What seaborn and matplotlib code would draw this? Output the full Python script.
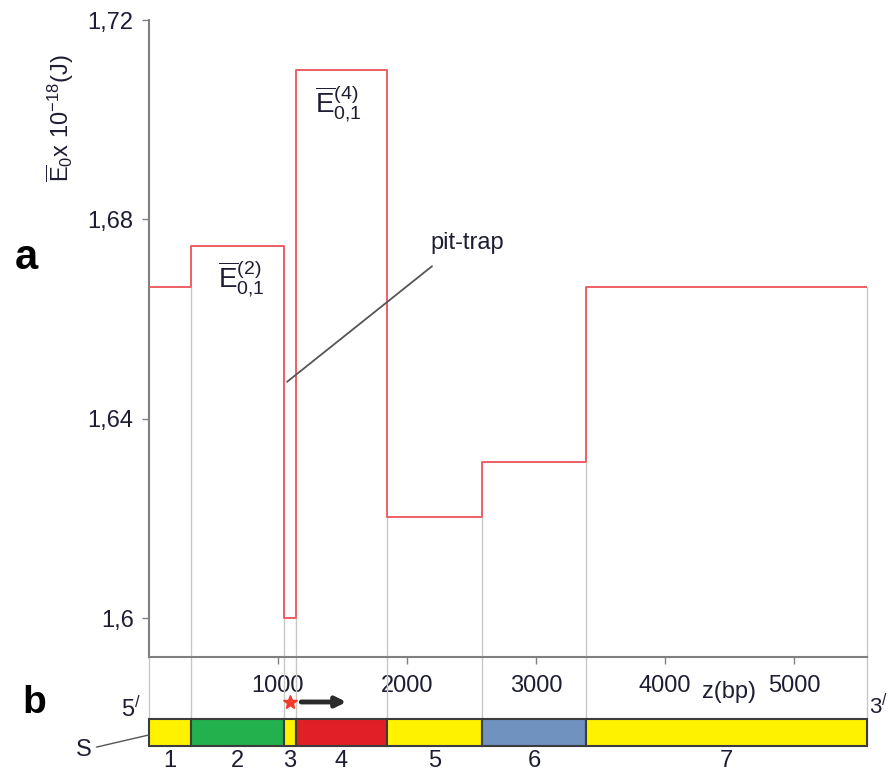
import numpy as np
import pandas as pd
import seaborn as sns
import matplotlib.pyplot as plt

# Region boundaries along the sequence (bp) and mean energy of each region
edges = [0, 326, 1047, 1140, 1845, 2580, 3388, 5566]
energy = [1.6664, 1.6746, 1.6000, 1.7100, 1.6202, 1.6314, 1.6664]
region_names = ["1", "2", "3", "4", "5", "6", "7"]
region_colors = ["#fff200", "#22b14c", "#fff200", "#e01f26", "#fff200", "#7092be", "#fff200"]
yticks = [1.60, 1.64, 1.68, 1.72]
ytick_labels = ["1,6", "1,64", "1,68", "1,72"]
xticks = [1000, 2000, 3000, 4000, 5000]

sns.set_style("white")
plt.rcParams["font.family"] = ["Liberation Sans", "DejaVu Sans"]
plt.rcParams["mathtext.fontset"] = "custom"
plt.rcParams["mathtext.rm"] = "Liberation Sans"
plt.rcParams["mathtext.it"] = "Liberation Sans:italic"
plt.rcParams["mathtext.bf"] = "Liberation Sans:bold"

TXT = "#1d1d33"
W, H = 888, 773


def fx(px):
    return px / W


def fy(py):
    return 1 - py / H


fig = plt.figure(figsize=(W / 100, H / 100), dpi=100)
ax = fig.add_axes([fx(149), fy(657), fx(867) - fx(149), fy(20) - fy(657)])
ax_b = fig.add_axes([fx(149), fy(746), fx(867) - fx(149), fy(719) - fy(746)])

xmin, xmax = edges[0], edges[-1]
ymin, ymax = 1.5922, 1.72

# step profile
df = pd.DataFrame({"z": edges, "E": energy + [energy[-1]]})
sns.lineplot(data=df, x="z", y="E", drawstyle="steps-post", color="#ee5f64",
             lw=1.4, ax=ax, zorder=3)

# gray guides from each step down through the strip
pos_a = ax.get_position()
pos_b = ax_b.get_position()
y_strip = ymin - (pos_a.y0 - pos_b.y0) / pos_a.height * (ymax - ymin)
tops = [ymin] + [min(energy[i - 1], energy[i]) for i in range(1, len(energy))] + [energy[-1]]
ax.vlines(edges, tops, y_strip, colors="#c8c8c8", lw=1, clip_on=False, zorder=1)

ax.set_xlim(xmin, xmax)
ax.set_ylim(ymin, ymax)
ax.set_yticks(yticks, ytick_labels)
ax.set_xticks(xticks)
ax.set_xlabel("")
ax.set_ylabel("")
ax.patch.set_alpha(0)
for s in ["top", "right"]:
    ax.spines[s].set_visible(False)
for s in ["left", "bottom"]:
    ax.spines[s].set_color("#808080")
    ax.spines[s].set_linewidth(1.5)
ax.tick_params(axis="both", colors="#808080", labelcolor=TXT, labelsize=17,
               length=5, width=1, left=True, bottom=True)
ax.tick_params(axis="x", pad=8)
ax.tick_params(axis="y", pad=6)

# labels inside the plot
ax.text(713, 1.668, r"$\overline{\mathrm{E}}_{0{,}1}^{(2)}$", ha="center", va="center",
        fontsize=20, color=TXT)
ax.text(1465, 1.703, r"$\overline{\mathrm{E}}_{0{,}1}^{(4)}$", ha="center", va="center",
        fontsize=20, color=TXT)
ax.text(2178, 1.673, "pit-trap", ha="left", va="bottom", fontsize=17, color=TXT)
ax.annotate("", xy=(1070, 1.6474), xytext=(2194, 1.6706),
            arrowprops=dict(arrowstyle="-", color="#555555", lw=1.3,
                            shrinkA=0, shrinkB=0))

fig.text(fx(60), fy(118), r"$\overline{\mathrm{E}}_0$x 10$^{-18}$(J)", rotation=90,
         ha="center", va="center", fontsize=17, color=TXT)
fig.text(fx(729), fy(692), "z(bp)", ha="center", va="center", fontsize=17, color=TXT)

# region strip
widths = np.diff(edges)
bars = ax_b.barh(0, widths, left=edges[:-1], height=1, color=region_colors,
                 edgecolor="#3c3c3c", lw=1.5)
for p in bars:
    p.set_clip_on(False)
ax_b.set_xlim(xmin, xmax)
ax_b.set_ylim(-0.5, 0.5)
ax_b.axis("off")

centers = [(a + b) / 2 for a, b in zip(edges[:-1], edges[1:])]
for c, name in zip(centers, region_names):
    ax_b.text(c, -0.65, name, ha="center", va="top", fontsize=17, color=TXT)

# promoter mark and direction arrow
tr = ax_b.get_xaxis_transform()
ax_b.plot(centers[2], 1.63, marker="*", color="#f03c2c", ms=10, transform=tr,
          clip_on=False)
ax_b.annotate("", xy=(1530, 1.63), xytext=(1180, 1.63), xycoords=tr,
              arrowprops=dict(arrowstyle="-|>,head_length=0.6,head_width=0.3",
                              color="#2a2a2a", lw=3.5, shrinkA=0, shrinkB=0))

ax_b.annotate("S", xy=(0, 0.41), xycoords="axes fraction",
              xytext=(fx(84), fy(750)), textcoords="figure fraction",
              ha="center", va="center", fontsize=17, color=TXT,
              arrowprops=dict(arrowstyle="-", color="#555555", lw=1,
                              shrinkA=1, shrinkB=0))

fig.text(fx(131), fy(709), r"5$^{/}$", ha="center", va="center", fontsize=17, color=TXT)
fig.text(fx(869), fy(707), r"3$^{/}$", ha="left", va="center", fontsize=16, color=TXT)

fig.text(fx(26), fy(258), "a", fontweight="bold", fontsize=30, ha="center",
         va="center", color="black")
fig.text(fx(34), fy(703), "b", fontweight="bold", fontsize=28, ha="center",
         va="center", color="black")

fig.savefig("out.png", dpi=100)
